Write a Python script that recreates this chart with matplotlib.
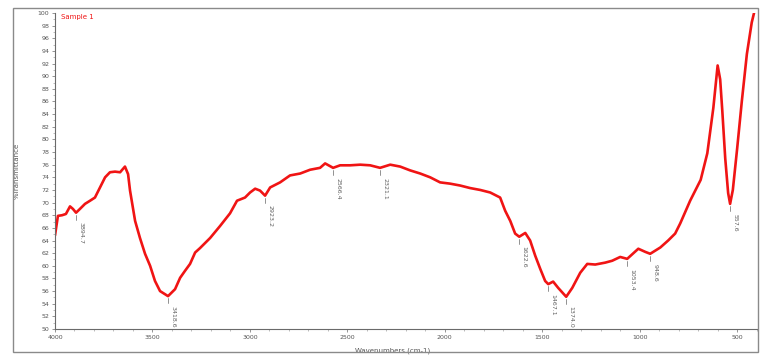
import numpy as np
import matplotlib
matplotlib.use('Agg')
import matplotlib.pyplot as plt
from matplotlib.patches import Rectangle
from matplotlib.ticker import MultipleLocator

# spectrum (wavenumber cm-1, %T)
wavenumber = [4000, 3985, 3964, 3944, 3923, 3908, 3892, 3872, 3846, 3820,
              3795, 3769, 3743, 3718, 3692, 3666, 3641, 3625, 3615, 3589,
              3564, 3538, 3512, 3487, 3461, 3420, 3384, 3358, 3333, 3307,
              3281, 3256, 3204, 3153, 3102, 3066, 3025, 2999, 2973, 2948,
              2922, 2896, 2845, 2794, 2742, 2691, 2640, 2614, 2573, 2537,
              2486, 2434, 2383, 2332, 2280, 2229, 2178, 2126, 2075, 2024,
              1973, 1921, 1870, 1818, 1767, 1716, 1690, 1664, 1639, 1618,
              1587, 1562, 1536, 1510, 1485, 1469, 1444, 1418, 1377, 1346,
              1305, 1269, 1228, 1177, 1141, 1100, 1064, 1007, 971, 946,
              894, 854, 818, 792, 741, 687, 653, 622, 600, 587,
              576, 561, 546, 536, 522, 500, 476, 450, 425, 407]
transmittance = [64.8, 67.9, 68.0, 68.2, 69.4, 69.0, 68.4, 69.0, 69.8, 70.3,
                 70.8, 72.4, 74.0, 74.8, 74.9, 74.8, 75.7, 74.5, 71.9, 67.1,
                 64.4, 61.9, 60.0, 57.6, 56.0, 55.2, 56.3, 58.1, 59.2, 60.3,
                 62.1, 62.8, 64.4, 66.3, 68.3, 70.3, 70.8, 71.6, 72.2, 71.9,
                 71.1, 72.4, 73.2, 74.3, 74.6, 75.2, 75.5, 76.2, 75.5, 75.9,
                 75.9, 76.0, 75.9, 75.5, 76.0, 75.7, 75.1, 74.6, 74.0, 73.2,
                 73.0, 72.7, 72.3, 72.0, 71.6, 70.8, 68.7, 67.1, 65.1, 64.6,
                 65.2, 64.0, 61.6, 59.5, 57.6, 57.1, 57.5, 56.5, 55.1, 56.5,
                 58.9, 60.3, 60.2, 60.5, 60.8, 61.4, 61.1, 62.7, 62.2, 61.9,
                 62.9, 64.0, 65.1, 66.7, 70.3, 73.6, 77.8, 85.0, 91.7, 89.5,
                 84.5, 77.0, 71.5, 69.8, 72.0, 78.5, 86.0, 93.5, 98.5, 100.8]

# labelled peaks
peak_labels = ['3894.7', '3418.6', '2923.2', '2566.4', '2321.1', '1622.6',
               '1467.1', '1374.0', '1053.4', '948.6', '557.6']
peak_wn = [3892, 3420, 2922, 2573, 2332, 1618, 1469, 1377, 1064, 946, 536]
peak_t = [68.4, 55.2, 71.1, 75.5, 75.5, 64.6, 57.1, 55.1, 61.1, 61.9, 69.8]

fig = plt.figure(figsize=(7.68, 3.63), dpi=100)
# outer frame
fig.patches.append(Rectangle((13 / 768, 11 / 363), 745 / 768, 344 / 363,
                             transform=fig.transFigure, fill=False,
                             edgecolor='#8a8a8a', lw=1.0))

ax = fig.add_axes([55 / 768, 34 / 363, 702 / 768, 316 / 363])
ax.plot(wavenumber, transmittance, color='#f01414', lw=1.9,
        solid_joinstyle='round', solid_capstyle='round')

ax.set_xlim(4000, 398)
ax.set_ylim(50, 100)
ax.xaxis.set_major_locator(MultipleLocator(500))
ax.xaxis.set_minor_locator(MultipleLocator(100))
ax.yaxis.set_major_locator(MultipleLocator(2))
ax.yaxis.set_minor_locator(MultipleLocator(1))

for side in ['top', 'right']:
    ax.spines[side].set_visible(False)
for side in ['left', 'bottom']:
    ax.spines[side].set_color('#6a6a6a')
    ax.spines[side].set_linewidth(0.8)

ax.tick_params(which='major', labelsize=4.5, colors='#6a6a6a',
               length=2.5, width=0.5, pad=1.5, labelcolor='#555555')
ax.tick_params(which='minor', length=1.5, width=0.4, colors='#8a8a8a')

ax.set_xlabel('Wavenumbers (cm-1)', fontsize=5, color='#555555')
ax.set_ylabel('%Transmittance', fontsize=5, color='#555555')
ax.xaxis.set_label_coords((393 - 55) / 702, -0.058)
ax.yaxis.set_label_coords((20 - 55) / 702, 0.5)

ax.text(0.008, 0.998, 'Sample 1', transform=ax.transAxes, fontsize=5,
        color='#f01414', va='top', ha='left')

# peak labels with small leader lines
for lab, w, t in zip(peak_labels, peak_wn, peak_t):
    ax.annotate(lab, xy=(w, t), xytext=(1.5, -7), textcoords='offset points',
                rotation=270, fontsize=4.5, color='#606060',
                ha='left', va='top',
                arrowprops=dict(arrowstyle='-', color='#808080', lw=0.6,
                                shrinkA=0, shrinkB=1.5,
                                connectionstyle='angle,angleA=0,angleB=90,rad=0'))

fig.savefig('out.png', dpi=100)
